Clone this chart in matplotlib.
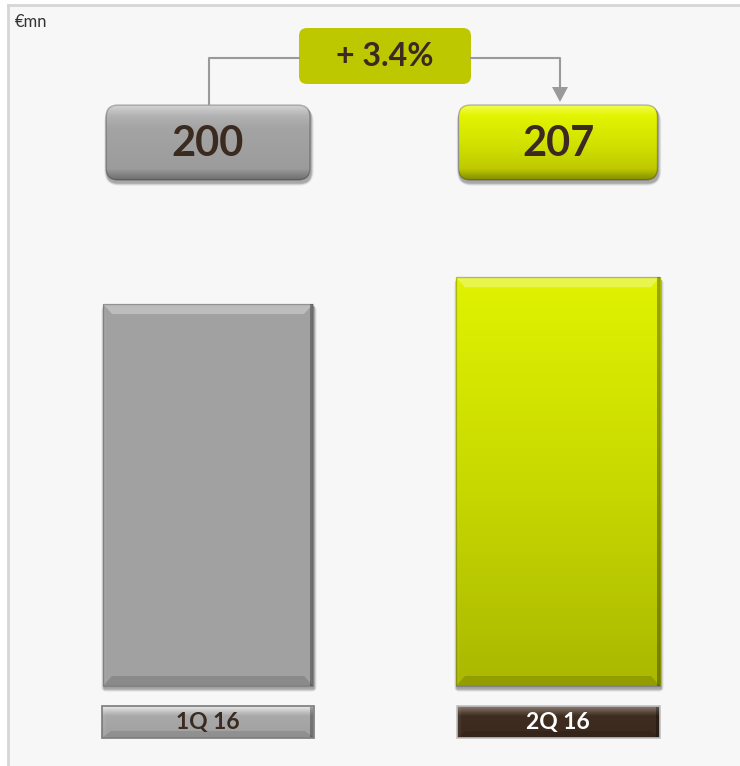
import numpy as np
import matplotlib
matplotlib.use("Agg")
import matplotlib.pyplot as plt
from matplotlib.patches import Rectangle, Polygon, FancyBboxPatch
from matplotlib.colors import LinearSegmentedColormap

periods = ["1Q 16", "2Q 16"]
values = [200, 207]
change_pct = 3.4
unit = "€mn"

plt.rcParams["font.family"] = ["Lato", "DejaVu Sans"]

W, H = 740, 766
TXT = "#3a2a1f"

fig = plt.figure(figsize=(W / 100, H / 100), dpi=100)
fig.patch.set_facecolor("white")


def pixel_axes(z):
    a = fig.add_axes([0, 0, 1, 1], zorder=z)
    a.set_xlim(0, W)
    a.set_ylim(H, 0)
    a.set_autoscale_on(False)
    a.axis("off")
    return a


bg = pixel_axes(0)
ov = pixel_axes(2)

# panel
bg.add_patch(Rectangle((8, 5), W - 8, H - 5, facecolor="#f7f7f7", edgecolor="none"))
bg.plot([8, W], [5, 5], color="#d6d6d6", lw=2)
bg.plot([8, 8], [5, H], color="#d6d6d6", lw=2)

# bar axes: 350 px per category, baseline 100 at y=686
ax = fig.add_axes([8 / W, (H - 686) / H, (W - 8) / W, 680 / H], zorder=1)
ax.patch.set_alpha(0)
ax.axis("off")
xmin = -200 / 350
ylo = 100
yhi = ylo + 680 / 3.82
widths = [0.6, 0.583]
bars = ax.bar(range(len(values)), values, width=widths, color=["#a1a1a1", "#d0e200"],
              linewidth=0)
grad_bar = LinearSegmentedColormap.from_list("g", ["#e0f300", "#c8d900", "#aab800"])
b2 = bars[1]
ax.imshow(np.linspace(0, 1, 100).reshape(-1, 1), cmap=grad_bar, aspect="auto",
          extent=(b2.get_x(), b2.get_x() + b2.get_width(), ylo, values[1]),
          origin="upper", clip_path=b2, zorder=2)
ax.set_xlim(xmin, xmin + (W - 8) / 350)
ax.set_ylim(ylo, yhi)


def to_px(x, y):
    return ov.transData.inverted().transform(ax.transData.transform((x, y)))


def bevel(a, x0, y0, x1, y1, b, tb, side, alphas):
    top = [(x0, y0), (x1, y0), (x1 - b, y0 + tb), (x0 + b, y0 + tb)]
    bot = [(x0, y1), (x1, y1), (x1 - b, y1 - tb), (x0 + b, y1 - tb)]
    a.add_patch(Polygon(top, facecolor="white", alpha=alphas[0], lw=0))
    a.add_patch(Polygon(bot, facecolor="black", alpha=alphas[1], lw=0))
    a.add_patch(Rectangle((x0, y0), side, y1 - y0, facecolor="white", alpha=alphas[2], lw=0))
    a.add_patch(Rectangle((x1 - side, y0), side, y1 - y0, facecolor="black", alpha=alphas[3], lw=0))


def shadow(x0, y0, x1, y1, r=0):
    for k, al in zip(range(6, 0, -1), [0.03, 0.04, 0.05, 0.06, 0.08, 0.1]):
        bg.add_patch(FancyBboxPatch((x0 - k / 2 + 1, y0 + 2), x1 - x0 + k, y1 - y0 + k / 2 + 1,
                                    boxstyle=f"round,pad=0,rounding_size={r + k}",
                                    facecolor="black", alpha=al, lw=0))


centers = []
for i, bar in enumerate(bars):
    x0, y0 = to_px(bar.get_x(), values[i])
    x1, y1 = to_px(bar.get_x() + bar.get_width(), ylo)
    centers.append((x0 + x1) / 2)
    shadow(x0, y0, x1, y1)
    bevel(ov, x0, y0, x1, y1, 9, 10, 3, alphas=(0.3, 0.14, 0.05, 0.3))
    ov.add_patch(Rectangle((x0, y0), x1 - x0, y1 - y0, fill=False,
                           edgecolor="black", alpha=0.22, lw=1))

# value boxes
box_cmaps = [
    LinearSegmentedColormap.from_list("vb0", [(0, "#d2d2d2"), (0.14, "#b2b2b2"), (0.3, "#a4a4a4"),
                                              (0.85, "#9c9c9c"), (1, "#6f6f6f")]),
    LinearSegmentedColormap.from_list("vb1", [(0, "#f3ff4a"), (0.14, "#e2f400"), (0.5, "#d2e300"),
                                              (0.85, "#bfca00"), (1, "#858f00")]),
]
box_w = [204, 199]
for i, v in enumerate(values):
    cx = centers[i]
    x0, x1 = cx - box_w[i] / 2, cx + box_w[i] / 2
    y0, y1 = 105, 180
    shadow(x0, y0, x1, y1, r=10)
    p = FancyBboxPatch((x0, y0), x1 - x0, y1 - y0, boxstyle="round,pad=0,rounding_size=12",
                       facecolor="none", edgecolor="#00000040", lw=1)
    ov.add_patch(p)
    ov.imshow(np.linspace(0, 1, 100).reshape(-1, 1), cmap=box_cmaps[i], aspect="auto",
              extent=(x0, x1, y1, y0), origin="upper", clip_path=p, zorder=0.5)
    ov.text(cx, 144, f"{v}", ha="center", va="center", fontsize=30, fontweight="bold", color=TXT)

# change connector
lc, rc = centers[0] + 1, centers[1] + 2
pb_x0, pb_x1 = 299, 471
ov.plot([lc, lc, pb_x0], [104, 58, 58], color="#9a9a9a", lw=1.5)
ov.plot([pb_x1, rc, rc], [58, 58, 90], color="#9a9a9a", lw=1.5)
ov.add_patch(Polygon([(rc - 8, 87), (rc + 8, 87), (rc, 102)], facecolor="#9a9a9a", lw=0))
ov.add_patch(FancyBboxPatch((pb_x0, 28), pb_x1 - pb_x0, 56, boxstyle="round,pad=0,rounding_size=8",
                            facecolor="#bdc800", edgecolor="none"))
ov.text((pb_x0 + pb_x1) / 2, 57, f"+ {change_pct}%", ha="center", va="center",
        fontsize=23, fontweight="bold", color=TXT)

# category labels
lab_styles = [
    dict(cmap=LinearSegmentedColormap.from_list("l0", [(0, "#e8e8e8"), (0.2, "#bdbdbd"), (0.3, "#a9a9a9"),
                                                       (1, "#a0a0a0")]),
         edge="#7a7a7a", txt=TXT),
    dict(cmap=LinearSegmentedColormap.from_list("l1", [(0, "#8a7a70"), (0.2, "#56463a"), (0.3, "#3f2d20"),
                                                       (1, "#3a291d")]),
         edge="#c0c0c0", txt="white"),
]
lab_w = [212, 203]
for i, name in enumerate(periods):
    cx = centers[i]
    x0, x1 = cx - lab_w[i] / 2, cx + lab_w[i] / 2
    y0, y1 = 706, 738
    r = Rectangle((x0, y0), x1 - x0, y1 - y0, facecolor="none", edgecolor=lab_styles[i]["edge"], lw=1.2)
    ov.add_patch(r)
    ov.imshow(np.linspace(0, 1, 50).reshape(-1, 1), cmap=lab_styles[i]["cmap"], aspect="auto",
              extent=(x0, x1, y1, y0), origin="upper", clip_path=r, zorder=0.5)
    bevel(ov, x0 + 1, y0 + 1, x1 - 1, y1 - 1, 8, 6, 3, alphas=(0.0, 0.1, 0.05, 0.3))
    ov.text(cx, 722, name, ha="center", va="center", fontsize=16.5, fontweight="bold",
            color=lab_styles[i]["txt"])

ov.text(15, 22, unit, ha="left", va="center", fontsize=12, color="#333333")

ov.set_xlim(0, W)
ov.set_ylim(H, 0)
fig.savefig("out.png", dpi=100)
